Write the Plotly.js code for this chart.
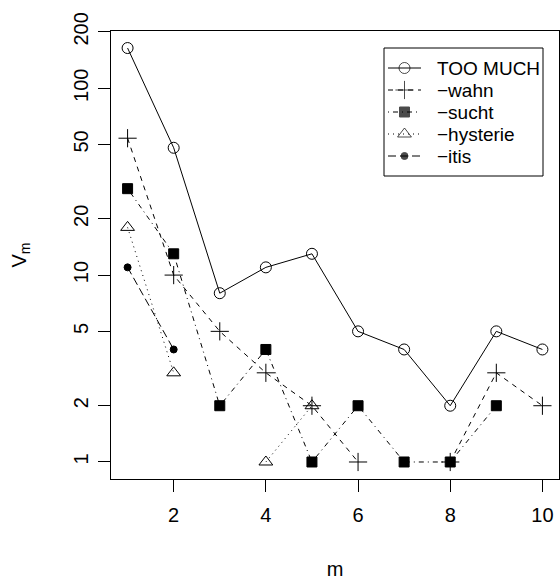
<!DOCTYPE html>
<html><head><meta charset="utf-8">
<script src="https://cdn.plot.ly/plotly-3.0.1.min.js"></script>
<style>body{margin:0;background:#fff}#c{width:560px;height:583px}</style>
</head><body><div id="c"></div>
<script>
const m = [1,2,3,4,5,6,7,8,9,10];
const tooMuch = [164,48,8,11,13,5,4,2,5,4];
const wahn = [54,10,5,3,2,1,null,1,3,2];
const sucht = [29,13,2,4,1,2,1,1,2,null];
const hysterie = [18,3,null,1,2,null,null,null,null,null];
const itis = [11,4,null,null,null,null,null,null,null,null];
const names = ["TOO MUCH","\u2212wahn","\u2212sucht","\u2212hysterie","\u2212itis"];
const yTicks = [1,2,5,10,20,50,100,200];
const xTicks = [2,4,6,8,10];

const series = [tooMuch, wahn, sucht, hysterie, itis];
const dashes = ["solid","5px,5px","1px,4px,5px,4px","1px,4px","8px,4px"];
const symbols = ["circle-open","cross-thin-open","square","triangle-up-open","circle"];
const sizes = [11,13,10,12,7];
const font = "Liberation Sans, Arial, sans-serif";

const traces = series.map((s,i)=>({
  x: m, y: s, name: names[i], type:"scatter", mode:"lines+markers",
  connectgaps:false, showlegend:false,
  line:{color:"#000", width:1, dash:dashes[i]},
  marker:{symbol:symbols[i], size:sizes[i], color:"#000", line:{color:"#000", width:1}}
}));

// Hand-built legend laid out on an overlay pixel axis (R-style compact legend)
const plotL = 111, plotR = 559, plotT = 31, plotB = 479;
const legL = 384, legR = 543, legT = 48, legB = 176;
const rowH = 22, row0 = 68, glyphL = 388, glyphR = 421, textX = 435;
const legAnn = [];
series.forEach((s,i)=>{
  const yy = row0 + i*rowH;
  traces.push({
    x:[glyphL,(glyphL+glyphR)/2,glyphR], y:[yy,yy,yy], xaxis:"x2", yaxis:"y2",
    type:"scatter", mode:"lines+markers", showlegend:false, hoverinfo:"skip",
    line:{color:"#000", width:1, dash:dashes[i]},
    marker:{symbol:symbols[i], size:[0,sizes[i],0], color:"#000", line:{color:"#000", width:1}}
  });
  legAnn.push({xref:"x2", yref:"y2", x:textX, y:yy, text:names[i], showarrow:false,
    xanchor:"left", yanchor:"middle", font:{family:font, size:19, color:"#000"}});
});

const layout = {
  width:560, height:583,
  margin:{l:plotL, r:560-plotR, t:plotT, b:583-plotB},
  paper_bgcolor:"#fff", plot_bgcolor:"#fff",
  font:{family:font, size:20, color:"#000"},
  showlegend:false,
  xaxis:{range:[0.64,10.36], tickvals:xTicks, ticktext:xTicks.map(String),
    showgrid:false, zeroline:false, showline:true, mirror:true, linecolor:"#000", linewidth:1,
    ticks:"outside", ticklen:12, tickcolor:"#000", ticklabelstandoff:6,
    title:{text:"m", standoff:36, font:{size:20}}},
  yaxis:{type:"log", range:[-0.091,2.306], tickvals:yTicks, ticktext:yTicks.map(String),
    tickangle:-90, ticklabelstandoff:2,
    showgrid:false, zeroline:false, showline:true, mirror:true, linecolor:"#000", linewidth:1,
    ticks:"outside", ticklen:12, tickcolor:"#000",
    title:{text:"V<sub>m</sub>", standoff:38, font:{size:20}}},
  xaxis2:{overlaying:"x", anchor:"y2", range:[plotL,plotR], visible:false, fixedrange:true},
  yaxis2:{overlaying:"y", anchor:"x2", range:[plotB,plotT], visible:false, fixedrange:true},
  shapes:[{type:"rect", xref:"x2", yref:"y2", x0:legL, x1:legR, y0:legT, y1:legB,
    line:{color:"#000", width:1}, fillcolor:"rgba(255,255,255,0)", layer:"below"}],
  annotations:legAnn
};
Plotly.newPlot("c", traces, layout, {staticPlot:true});
</script></body></html>
